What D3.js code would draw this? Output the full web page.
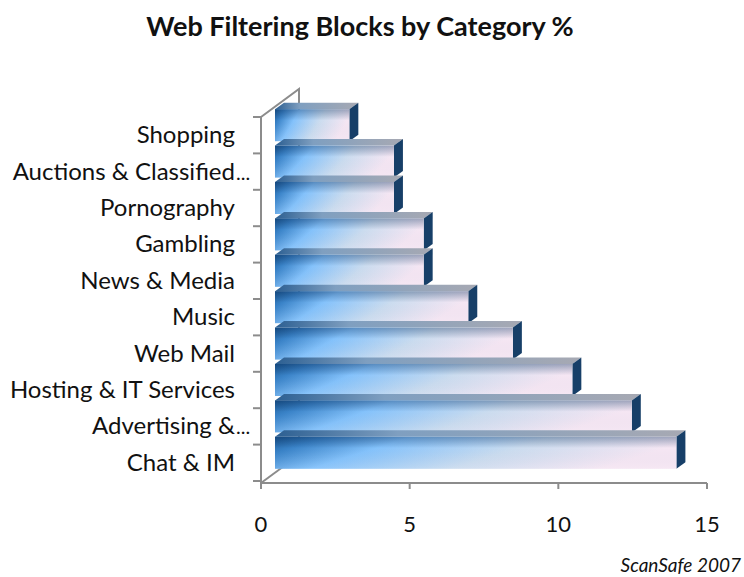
<!DOCTYPE html>
<html>
<head>
<meta charset="utf-8">
<script src="https://cdn.jsdelivr.net/npm/d3@7"></script>
<style>
  body { margin: 0; background: #fff; }
  text { font-family: Lato, "Open Sans", sans-serif; fill: #111; }
</style>
</head>
<body>
<div id="chart"></div>
<script>
// data, top to bottom as in the picture
const categories = ["Shopping", "Auctions & Classified...", "Pornography", "Gambling", "News & Media",
  "Music", "Web Mail", "Hosting & IT Services", "Advertising &...", "Chat & IM"]
const values = [2.5, 4, 4, 5, 5, 6.5, 8, 10, 12, 13.5]
const xTicks = [0, 5, 10, 15]

const width = 744, height = 577
const front = [14, -10]   // offset of bar front face from the axis plane
const depth = [9, -6.5]   // bar depth
const wall = [38, -28]    // full depth of the box

const svg = d3.select('#chart').append('svg').attr('width', width).attr('height', height)

const x = d3.scaleLinear().domain([0, 15]).range([261, 707])
const y = d3.scaleBand().domain(categories).range([117, 481]).paddingInner(0.12).paddingOuter(0.06)

const defs = svg.append('defs')
const fg = defs.append('linearGradient').attr('id', 'frontGrad')
  .attr('x1', 0).attr('y1', 0).attr('x2', 1).attr('y2', 0.25)
fg.append('stop').attr('offset', '0%').attr('stop-color', '#1b5995')
fg.append('stop').attr('offset', '12%').attr('stop-color', '#3a83c8')
fg.append('stop').attr('offset', '32%').attr('stop-color', '#84c2fb')
fg.append('stop').attr('offset', '65%').attr('stop-color', '#cbdcef')
fg.append('stop').attr('offset', '100%').attr('stop-color', '#f5e6f3')
const shade = defs.append('linearGradient').attr('id', 'shadeGrad')
  .attr('x1', 0).attr('y1', 0).attr('x2', 0).attr('y2', 1)
shade.append('stop').attr('offset', '0%').attr('stop-color', '#0a2a55').attr('stop-opacity', 0.35)
shade.append('stop').attr('offset', '35%').attr('stop-color', '#0a2a55').attr('stop-opacity', 0)
shade.append('stop').attr('offset', '100%').attr('stop-color', '#ffffff').attr('stop-opacity', 0.05)
const tg = defs.append('linearGradient').attr('id', 'topGrad')
tg.append('stop').attr('offset', '0%').attr('stop-color', '#2c5f92')
tg.append('stop').attr('offset', '30%').attr('stop-color', '#7f9fc0')
tg.append('stop').attr('offset', '100%').attr('stop-color', '#a7a9b3')

const axisColor = '#8c8c8c'
const x0 = x(0), yBottom = 483, yTop = 117

// walls / box edges
const box = svg.append('g').attr('stroke', axisColor).attr('stroke-width', 2).attr('fill', 'none')
box.append('path').attr('d', `M${x0},${yBottom}L${x0 + wall[0]},${yBottom + wall[1]}`)
box.append('path').attr('d', `M${x0},${yTop}L${x0 + wall[0]},${yTop + wall[1]}L${x0 + wall[0]},${yBottom + wall[1]}`)
box.append('path').attr('d', `M${x0},${yTop}L${x0},${yBottom}`)
box.append('path').attr('d', `M${x0},${yBottom}L${x(15)},${yBottom}`)
// category ticks
const bounds = d3.range(categories.length + 1).map(i => yTop + i * y.step())
box.selectAll('.yt').data(bounds).join('line')
  .attr('x1', x0 - 8).attr('x2', x0).attr('y1', d => d).attr('y2', d => d)
box.selectAll('.xt').data(xTicks).join('line')
  .attr('x1', d => x(d)).attr('x2', d => x(d)).attr('y1', yBottom).attr('y2', yBottom + 6)

// bars
const bars = svg.append('g').selectAll('g').data(categories).join('g')
bars.each(function (c, i) {
  const g = d3.select(this)
  const l = x(0) + front[0], r = x(values[i]) + front[0]
  const t = y(c) + front[1], b = t + y.bandwidth()
  g.append('path').attr('fill', 'url(#topGrad)')
    .attr('d', `M${l},${t}L${l + depth[0]},${t + depth[1]}L${r + depth[0]},${t + depth[1]}L${r},${t}Z`)
  g.append('path').attr('fill', '#173f68')
    .attr('d', `M${r},${t}L${r + depth[0]},${t + depth[1]}L${r + depth[0]},${b + depth[1]}L${r},${b}Z`)
  g.append('rect').attr('x', l).attr('y', t).attr('width', r - l).attr('height', b - t).attr('fill', 'url(#frontGrad)')
  g.append('rect').attr('x', l).attr('y', t).attr('width', r - l).attr('height', b - t).attr('fill', 'url(#shadeGrad)')
})

// category labels
const labels = svg.append('g').attr('font-size', 24)
categories.forEach(c => {
  const trunc = c.endsWith('...')
  const main = trunc ? c.slice(0, -3) : c
  const cy = y(c) + y.bandwidth() / 2 + 8
  labels.append('text').attr('x', 235).attr('y', cy).attr('text-anchor', 'end').text(main)
  if (trunc) labels.append('text').attr('x', 236).attr('y', cy).attr('font-size', 20).text('...')
})

// x tick labels
svg.append('g').attr('font-size', 22).selectAll('text').data(xTicks).join('text')
  .attr('x', d => x(d)).attr('y', 532).attr('text-anchor', 'middle').text(d => d)

svg.append('text').attr('x', 360).attr('y', 36).attr('text-anchor', 'middle')
  .attr('font-size', 27).attr('font-weight', 'bold').text('Web Filtering Blocks by Category %')
svg.append('text').attr('x', 741).attr('y', 572).attr('text-anchor', 'end')
  .attr('font-size', 19).attr('font-style', 'italic').text('ScanSafe 2007')
</script>
</body>
</html>
